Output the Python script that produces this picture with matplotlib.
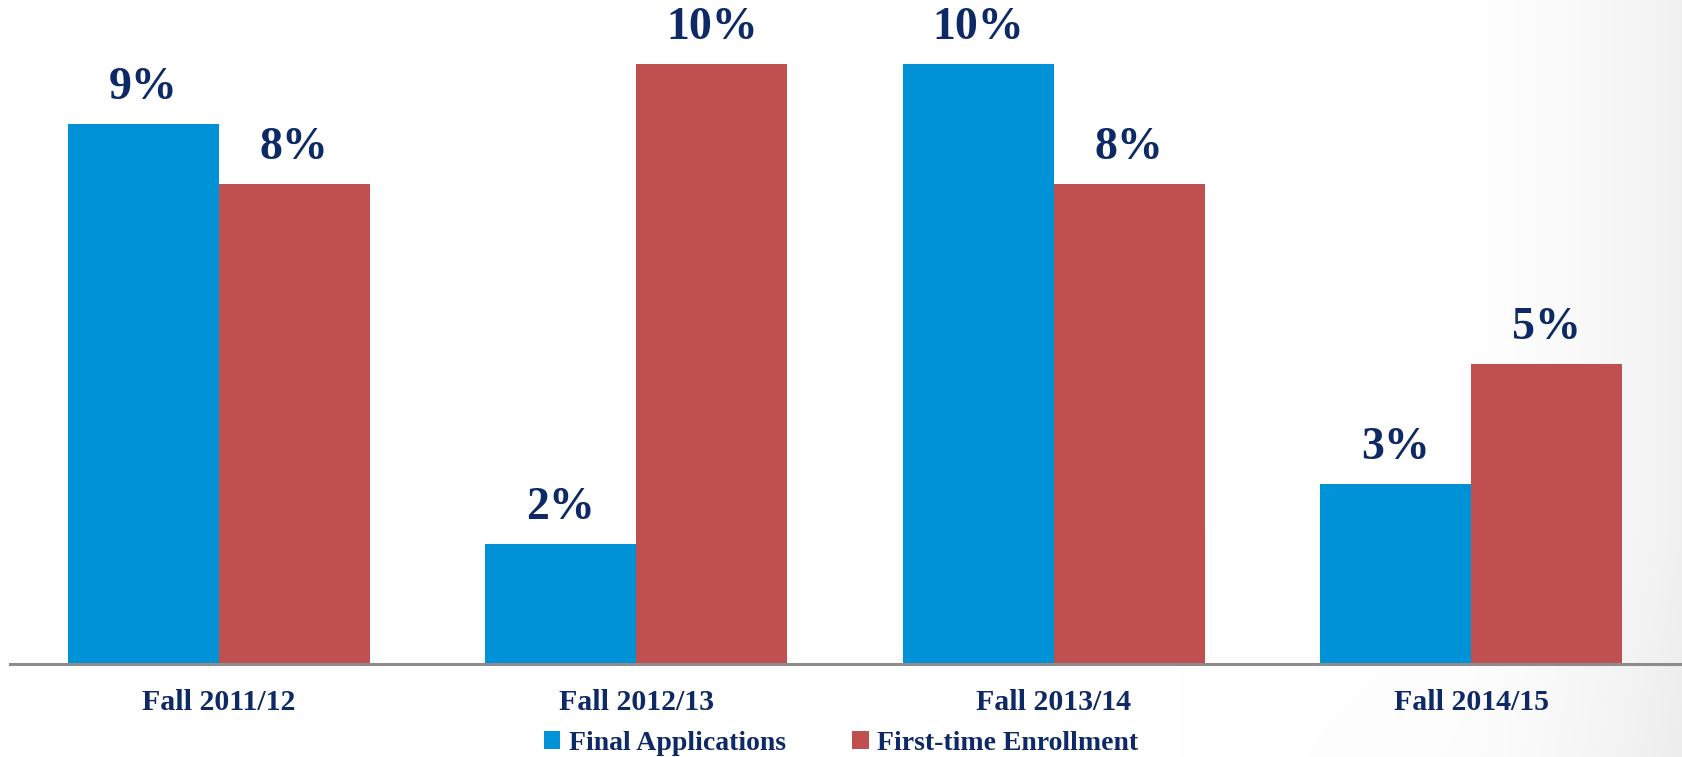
import matplotlib
matplotlib.use("Agg")
import matplotlib.pyplot as plt
import numpy as np
from matplotlib.patches import Patch

categories = ["Fall 2011/12", "Fall 2012/13", "Fall 2013/14", "Fall 2014/15"]
final_applications = [9, 2, 10, 3]
first_time_enrollment = [8, 10, 8, 5]
series_names = ["Final Applications", "First-time Enrollment"]

BLUE = "#0092d6"
RED = "#c0504f"
NAVY = "#0e2a66"
FONT = "Liberation Serif"

W, H = 1683, 757
fig = plt.figure(figsize=(W / 100, H / 100), dpi=100)

# background gradient (white to light gray at the right)
bg = fig.add_axes([0, 0, 1, 1], zorder=-10)
xs = np.linspace(0, 1, 400)
ys = np.linspace(0, 1, 200)
X, Y = np.meshgrid(xs, ys)
g = np.clip((X - 0.86) / 0.14, 0, 1) ** 1.6 * 0.055 + np.clip((X - 0.7) / 0.3, 0, 1) * np.clip((Y - 0.7) / 0.3, 0, 1) * 0.015
img = np.dstack([1 - g, 1 - g, 1 - g])
bg.imshow(img, extent=[0, 1, 0, 1], aspect="auto", origin="upper")
bg.axis("off")

ax = fig.add_axes([10 / W, 93 / H, 1670 / W, 1 - 93 / H])
ax.patch.set_alpha(0)
x = np.arange(len(categories))
bw = 0.362
ax.bar(x - bw / 2, final_applications, width=bw, color=BLUE, label=series_names[0])
ax.bar(x + bw / 2, first_time_enrollment, width=bw, color=RED, label=series_names[1])

for xi, v in zip(x - bw / 2, final_applications):
    ax.text(xi, v + 0.25, f"{v}%", ha="center", va="bottom", fontsize=33,
            fontweight="bold", color=NAVY, family=FONT)
for xi, v in zip(x + bw / 2, first_time_enrollment):
    ax.text(xi, v + 0.25, f"{v}%", ha="center", va="bottom", fontsize=33,
            fontweight="bold", color=NAVY, family=FONT)

ax.set_xlim(-0.5, len(categories) - 0.5)
ax.set_ylim(0, 664 / 60)
ax.set_xticks(x)
ax.set_xticklabels(categories, fontsize=21.5, fontweight="bold", color=NAVY, family=FONT)
ax.tick_params(axis="x", length=0, pad=18)
ax.set_yticks([])
for s in ["top", "right", "left"]:
    ax.spines[s].set_visible(False)
ax.spines["bottom"].set_color("#8c8c8c")
ax.spines["bottom"].set_linewidth(2.2)

handles = [Patch(facecolor=BLUE, edgecolor="none"), Patch(facecolor=RED, edgecolor="none")]
fig.legend(handles, series_names, loc="center", bbox_to_anchor=(841 / W, 1 - 743 / H),
           ncol=2, frameon=False, handlelength=0.6, handleheight=0.6, handletextpad=0.3,
           columnspacing=2.4,
           prop={"family": FONT, "weight": "bold", "size": 20}, labelcolor=NAVY)

fig.savefig("out.png", dpi=100)
